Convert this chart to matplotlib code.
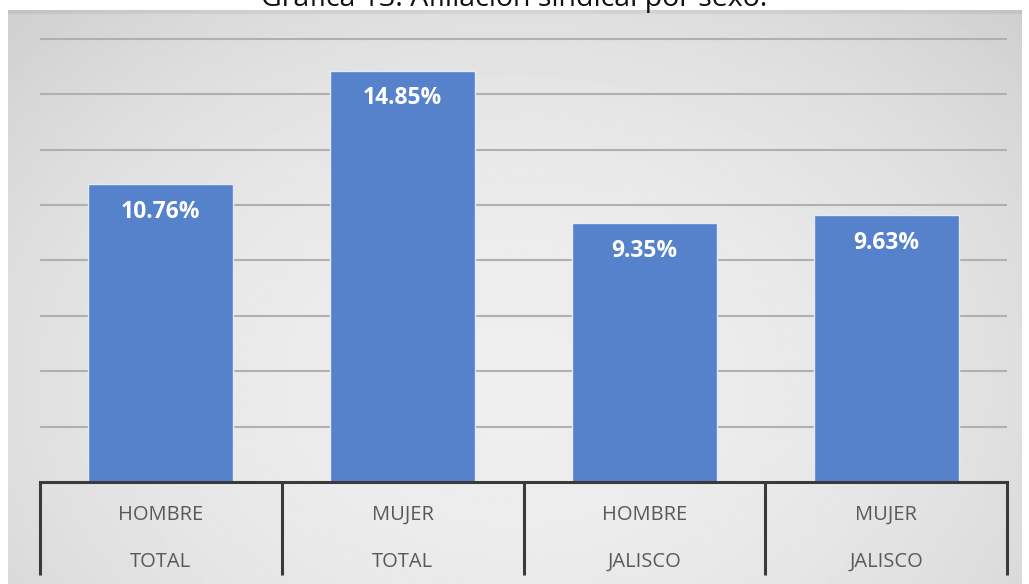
import numpy as np
import matplotlib.pyplot as plt

titulo = "Gráfica 13. Afiliación sindical por sexo."
sexo = ["HOMBRE", "MUJER", "HOMBRE", "MUJER"]
ambito = ["TOTAL", "TOTAL", "JALISCO", "JALISCO"]
valores = [10.76, 14.85, 9.35, 9.63]
etiquetas = ["10.76%", "14.85%", "9.35%", "9.63%"]

W, H = 1029, 584
fig = plt.figure(figsize=(W / 100, H / 100), dpi=100, facecolor="white")

# gray panel with soft gradient
bg = fig.add_axes([8 / W, 0, (1022 - 8) / W, (H - 10) / H])
yy, xx = np.mgrid[0:1:300j, 0:1:400j]
r = ((xx - 0.5) / 0.6) ** 2 + ((yy - 0.35) / 0.8) ** 2
grad = 0.935 - 0.09 * r
grad[-2:, :] -= 0.05
bg.imshow(grad, cmap="gray", vmin=0, vmax=1, aspect="auto",
          extent=[0, 1, 0, 1], origin="lower")
bg.set_axis_off()

# main chart area
ax = fig.add_axes([40 / W, (H - 482) / H, 967 / W, 472 / H])
ax.patch.set_alpha(0)
x = np.arange(len(valores))
ax.bar(x, valores, width=0.6, color="#5681CB", edgecolor="#e4ebf7", linewidth=1, zorder=3)
ax.set_xlim(-0.5, 3.5)
ax.set_ylim(0, 17.04)
ax.set_yticks(np.arange(2, 17, 2))
ax.grid(axis="y", color="#b0b0b0", linewidth=1.5, zorder=0)
ax.tick_params(left=False, bottom=False, labelleft=False, labelbottom=False)
for s in ax.spines.values():
    s.set_visible(False)

for xi, v, t in zip(x, valores, etiquetas):
    ax.annotate(t, (xi, v), xytext=(0, -20), textcoords="offset points",
                ha="center", va="center", color="white", fontsize=16.5,
                fontweight="bold", family="Open Sans", zorder=4)

# category table under the bars
lc = "#3a3a3a"
ax.plot([-0.5, 3.5], [0, 0], color=lc, linewidth=2.2, clip_on=False, zorder=5)
for xv in np.arange(-0.5, 4, 1):
    ax.plot([xv, xv], [0, -3.36], color=lc, linewidth=2.2, clip_on=False,
            solid_capstyle="butt", zorder=5)
for xi, s, a in zip(x, sexo, ambito):
    ax.text(xi, -1.19, s, ha="center", va="center", fontsize=14.5,
            color="#595959", family="Open Sans")
    ax.text(xi, -2.89, a, ha="center", va="center", fontsize=14.5,
            color="#595959", family="Open Sans")

fig.text(0.5, 1 - 6 / H, titulo, ha="center", va="baseline", fontsize=20.5,
         family="Open Sans", color="#111111")

fig.savefig("out.png", dpi=100, facecolor="white")
